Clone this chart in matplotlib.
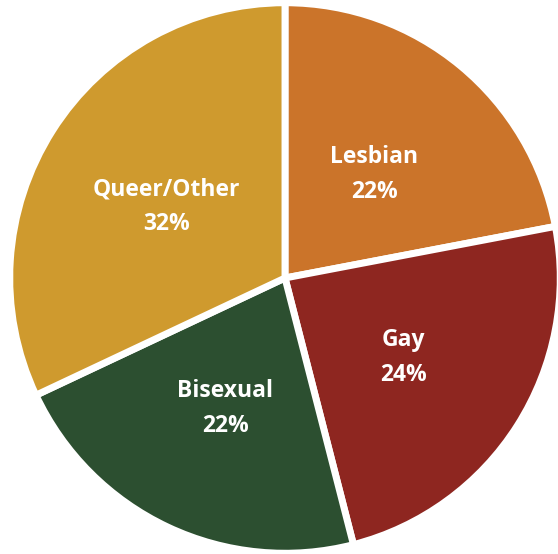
import matplotlib
matplotlib.use("Agg")
import matplotlib.pyplot as plt
import numpy as np

categories = ["Lesbian", "Gay", "Bisexual", "Queer/Other"]
shares = [22, 24, 22, 32]
colors = ["#CB742A", "#8E2620", "#2C4F30", "#CF9A2E"]

fig = plt.figure(figsize=(5.58, 5.54), dpi=100)
W, H = 558, 554
cx, cy, r = 285, 278, 272
ax = fig.add_axes([(cx - r) / W, (H - cy - r) / H, 2 * r / W, 2 * r / H])

wedges, texts = ax.pie(
    shares,
    colors=colors,
    startangle=90,
    counterclock=False,
    radius=1.012,
    wedgeprops=dict(edgecolor="white", linewidth=5),
)

for w, name, val in zip(wedges, categories, shares):
    ang = np.deg2rad((w.theta1 + w.theta2) / 2)
    d = 0.515
    ax.text(d * np.cos(ang), d * np.sin(ang) - 0.015, f"{name}\n{val}%",
            ha="center", va="center", color="white",
            fontsize=16.5, fontweight="bold", family="Open Sans",
            linespacing=1.6)

ax.set_xlim(-1, 1)
ax.set_ylim(-1, 1)
ax.set_aspect("equal")
ax.axis("off")
fig.savefig("out.png", dpi=100, facecolor="white")
